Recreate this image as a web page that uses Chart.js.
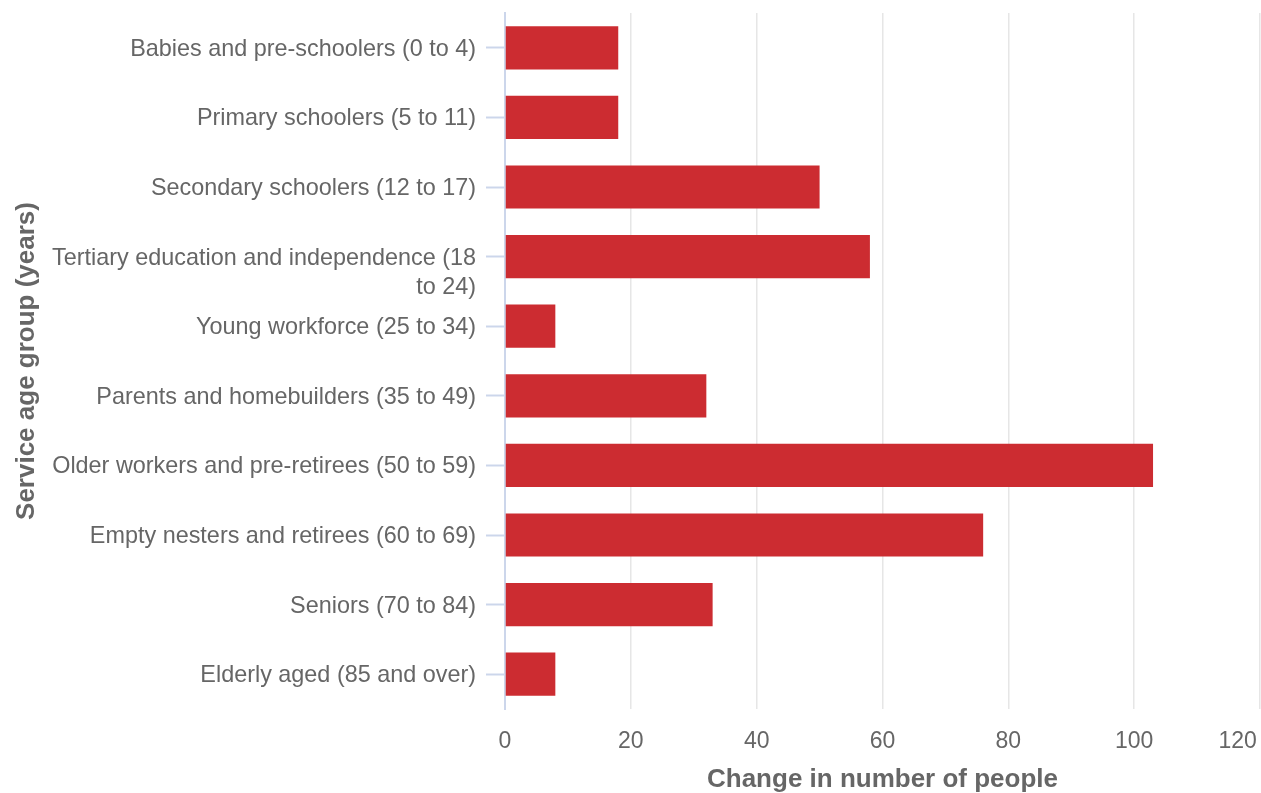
<!DOCTYPE html>
<html>
<head>
<meta charset="utf-8">
<script src="https://cdn.jsdelivr.net/npm/chart.js@4"></script>
<style>
html, body { margin: 0; padding: 0; background: #ffffff; }
#wrap { width: 1261px; height: 793px; position: relative; }
</style>
</head>
<body>
<div id="wrap"><canvas id="c"></canvas></div>
<script>
const categories = [
  'Babies and pre-schoolers (0 to 4)',
  'Primary schoolers (5 to 11)',
  'Secondary schoolers (12 to 17)',
  ['Tertiary education and independence (18', 'to 24)'],
  'Young workforce (25 to 34)',
  'Parents and homebuilders (35 to 49)',
  'Older workers and pre-retirees (50 to 59)',
  'Empty nesters and retirees (60 to 69)',
  'Seniors (70 to 84)',
  'Elderly aged (85 and over)'
];
const changeValues = [18, 18, 50, 58, 8, 32, 103, 76, 33, 8];
const xTicks = [0, 20, 40, 60, 80, 100, 120];
const xTitle = 'Change in number of people';
const yTitle = 'Service age group (years)';

const FONT = "'Liberation Sans', Arial, sans-serif";
const GREY = '#666666';

new Chart(document.getElementById('c'), {
  type: 'bar',
  data: {
    labels: categories,
    datasets: [{
      data: changeValues,
      backgroundColor: '#cc2c31',
      borderWidth: 0,
      barPercentage: 0.62,
      categoryPercentage: 1
    }]
  },
  options: {
    indexAxis: 'y',
    responsive: true,
    maintainAspectRatio: false,
    animation: false,
    layout: { padding: { top: 13, right: 1, bottom: 0, left: 0 } },
    plugins: { legend: { display: false }, tooltip: { enabled: false } },
    scales: {
      x: {
        min: 0,
        max: 120,
        afterBuildTicks: (s) => { s.ticks = xTicks.map(v => ({ value: v })); },
        afterFit: (s) => { s.height = 84; s.paddingRight = 0; s.paddingLeft = 0; },
        grid: { color: '#e6e6e6', lineWidth: 1.5, drawTicks: false },
        border: { display: false },
        ticks: {
          autoSkip: false,
          maxRotation: 0,
          padding: 19,
          color: GREY,
          font: { family: FONT, size: 23 },
          callback: (v) => v === 120 ? '120\u00a0\u00a0\u00a0\u00a0\u00a0\u00a0\u00a0' : String(v)
        },
        title: {
          display: true,
          text: xTitle,
          color: GREY,
          font: { family: FONT, size: 26, weight: 'bold', lineHeight: 1.05 },
          padding: { top: 0, bottom: 0 }
        }
      },
      y: {
        afterFit: (s) => { s.width = 505; s.paddingTop = 0; s.paddingBottom = 0; },
        grid: { offset: false, drawOnChartArea: false, drawTicks: true, tickLength: 19, tickColor: '#ccd6eb', tickWidth: 2 },
        border: { display: true, color: '#ccd6eb', width: 2 },
        ticks: {
          autoSkip: false,
          padding: 10,
          labelOffset: 1.5,
          color: GREY,
          font: { family: FONT, size: 23.4, lineHeight: 1.25 },
          callback: function (v, i) {
            const l = categories[i];
            return Array.isArray(l) ? [''].concat(l) : l;
          }
        },
        title: {
          display: true,
          text: yTitle,
          color: GREY,
          font: { family: FONT, size: 26, weight: 'bold', lineHeight: 1.2 },
          padding: { top: 11, bottom: 0 }
        }
      }
    }
  }
});
</script>
</body>
</html>
